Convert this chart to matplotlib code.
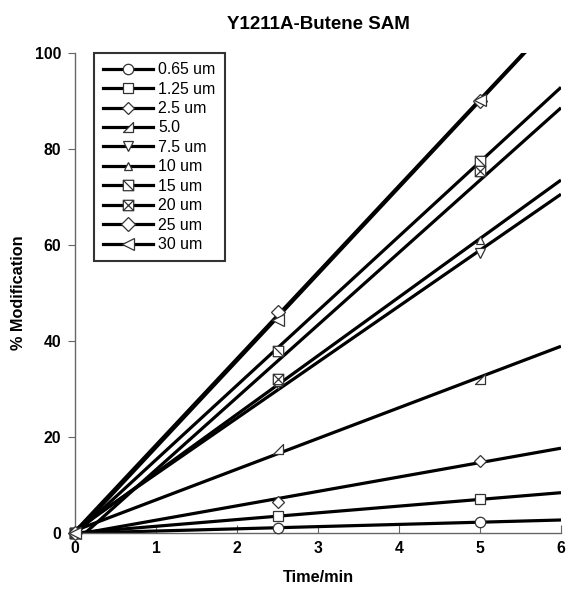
import numpy as np
import matplotlib
matplotlib.use("Agg")
import matplotlib.pyplot as plt
from matplotlib.path import Path

plt.rcParams['font.family'] = ['Liberation Sans', 'DejaVu Sans']
plt.rcParams['font.weight'] = 'bold'

times = [0, 2.5, 5]
labels = ["0.65 um", "1.25 um", "2.5 um", "5.0", "7.5 um", "10 um", "15 um", "20 um", "25 um", "30 um"]
mod_065 = [0, 1.0, 2.3]
mod_125 = [0, 3.5, 7.0]
mod_25 = [0, 6.5, 15.0]
mod_50 = [0, 17.5, 32.0]
mod_75 = [0, 31.0, 58.3]
mod_10 = [0, 31.5, 61.0]
mod_15 = [0, 38.0, 77.6]
mod_20 = [0, 32.0, 75.4]
mod_25um = [0, 46.0, 90.0]
mod_30 = [0, 44.4, 90.3]
series = [mod_065, mod_125, mod_25, mod_50, mod_75, mod_10, mod_15, mod_20, mod_25um, mod_30]

# custom markers
rtri = Path([(-1, -1), (1, -1), (1, 1), (-1, -1)],
            [Path.MOVETO, Path.LINETO, Path.LINETO, Path.CLOSEPOLY])
sq_diag = Path([(-1, -1), (1, -1), (1, 1), (-1, 1), (-1, -1), (-1, 1), (1, -1)],
               [Path.MOVETO, Path.LINETO, Path.LINETO, Path.LINETO, Path.CLOSEPOLY,
                Path.MOVETO, Path.LINETO])
sq_x = Path([(-1, -1), (1, -1), (1, 1), (-1, 1), (-1, -1), (-1, 1), (1, -1), (-1, -1), (1, 1)],
            [Path.MOVETO, Path.LINETO, Path.LINETO, Path.LINETO, Path.CLOSEPOLY,
             Path.MOVETO, Path.LINETO, Path.MOVETO, Path.LINETO])
markers = ['o', 's', 'D', rtri, 'v', '^', sq_diag, sq_x, 'D', '<']
msizes = [7.5, 7, 6, 7.5, 6.5, 5.5, 7.5, 7.5, 7, 8.5]

fig = plt.figure(figsize=(5.66, 5.95), dpi=100)
ax = fig.add_axes([75/566, 1-533/595, (561-75)/566, (533-53)/595])

xfit = np.linspace(0, 6, 200)
handles = []
for lab, ys, mk, ms in zip(labels, series, markers, msizes):
    k, b = np.polyfit(times, ys, 1)
    yy = k * xfit + b
    ax.plot(xfit, yy, color='black', lw=2.3, solid_capstyle='butt', zorder=2, clip_on=True)
    ax.plot(times, ys, linestyle='none', marker=mk, ms=ms, mfc='white', mec='#333333',
            mew=0.9, zorder=3, clip_on=False)
    h, = ax.plot([], [], color='black', lw=2.3, marker=mk, ms=ms, mfc='white',
                 mec='#333333', mew=0.9, label=lab)
    handles.append(h)

ax.set_xlim(0, 6)
ax.set_ylim(0, 100)
ax.set_xticks(range(0, 7))
ax.set_yticks(range(0, 101, 20))
for s in ['top', 'right']:
    ax.spines[s].set_visible(False)
for s in ['left', 'bottom']:
    ax.spines[s].set_color('#666666')
    ax.spines[s].set_linewidth(1.0)
ax.tick_params(axis='x', direction='in', length=6, color='#666666', labelsize=11.3, pad=6)
ax.tick_params(axis='y', direction='out', length=5, color='#666666', labelsize=11.3, pad=5)
for t in ax.get_xticklabels() + ax.get_yticklabels():
    t.set_fontweight('bold')

ax.set_xlabel('Time/min', fontsize=11.7, fontweight='bold', labelpad=10)
ax.set_ylabel('% Modification', fontsize=11.7, fontweight='bold', labelpad=6)
ax.set_title('Y1211A-Butene SAM', fontsize=13.5, fontweight='bold', pad=17)

leg = ax.legend(handles=handles, loc='upper left', bbox_to_anchor=((94-75)/486, 1.0),
                borderaxespad=0, frameon=True, fancybox=False, shadow=False,
                handlelength=3.15, labelspacing=0.28, handletextpad=0.32,
                borderpad=0.58, prop={'size': 11.4, 'weight': 'normal'})
leg.get_frame().set_edgecolor('black')
leg.get_frame().set_linewidth(1.5)
leg.set_zorder(5)

fig.savefig('out.png', dpi=100)
